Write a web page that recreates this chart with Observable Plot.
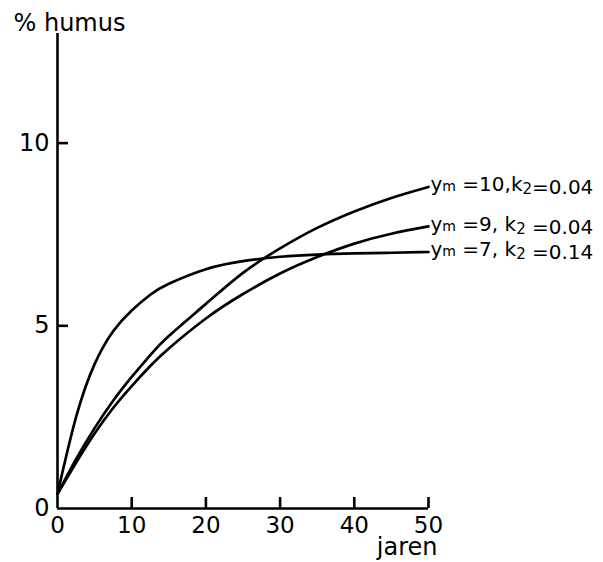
<!DOCTYPE html>
<html><head><meta charset="utf-8">
<script src="https://cdn.jsdelivr.net/npm/d3@7"></script>
<script src="https://cdn.jsdelivr.net/npm/@observablehq/plot@0.6"></script>
<style>body{margin:0;background:#fff}</style>
</head><body><div id="chart"></div>
<script>
const years = [0, 2.5, 5, 7.5, 10, 12.5, 15, 20, 25, 30, 35, 40, 45, 50];
const humusYm10 = [0.4, 1.35, 2.2, 2.95, 3.6, 4.2, 4.72, 5.6, 6.45, 7.12, 7.68, 8.13, 8.5, 8.8];
const humusYm9  = [0.4, 1.25, 2.05, 2.75, 3.35, 3.9, 4.38, 5.2, 5.87, 6.43, 6.88, 7.25, 7.52, 7.72];
const humusYm7  = [0.4, 2.5, 3.95, 4.85, 5.42, 5.85, 6.15, 6.55, 6.77, 6.89, 6.95, 6.98, 7.0, 7.02];
const seriesLabels = ["ym =10,k2=0.04", "ym =9, k2 =0.04", "ym =7, k2 =0.14"];
const xTicks = [0, 10, 20, 30, 40, 50];
const yTicks = [0, 5, 10];
const xLabel = "jaren";
const yLabel = "% humus";

const series = [humusYm10, humusYm9, humusYm7];
const rows = series.flatMap((vals, i) => years.map((t, j) => ({t, v: vals[j], s: seriesLabels[i]})));
const ends = series.map((vals, i) => ({t: years[years.length - 1], v: vals[vals.length - 1], s: seriesLabels[i]}));
const xTickRows = xTicks.filter(d => d > 0).map(d => ({x: d}));
const yTickRows = yTicks.filter(d => d > 0).map(d => ({y: d}));

const W = 603, H = 562, ML = 57, MR = 175, MT = 33, MB = 54;
const xDomain = [0, 50], yDomain = [0, 13];
const frameW = W - ML - MR, frameH = H - MT - MB;
const tickLen = 11;

const chart = Plot.plot({
  width: W, height: H,
  marginLeft: ML, marginRight: MR, marginTop: MT, marginBottom: MB,
  style: {fontFamily: "'DejaVu Sans', sans-serif", background: "#fff", color: "#000"},
  x: {domain: xDomain},
  y: {domain: yDomain},
  marks: [
    Plot.axisX({ticks: xTicks, tickSize: 0, tickPadding: 8, fontSize: 23, label: null}),
    Plot.axisY({ticks: yTicks, tickSize: 0, tickPadding: 8, fontSize: 24, label: null}),
    Plot.tickX(xTickRows, {x: "x", insetTop: frameH - tickLen, strokeWidth: 2.6, stroke: "#000"}),
    Plot.tickY(yTickRows, {y: "y", insetRight: frameW - tickLen, strokeWidth: 2.6, stroke: "#000"}),
    Plot.ruleY([0], {x1: 0, x2: 50, strokeWidth: 2.6}),
    Plot.ruleX([0], {y1: 0, y2: 13, strokeWidth: 2.6}),
    Plot.line(rows, {x: "t", y: "v", z: "s", curve: "natural", strokeWidth: 2.7, stroke: "#000"}),
    Plot.text(ends, {x: "t", y: "v", text: "s", textAnchor: "start", dx: 2, dy: -2, fontSize: 20, fill: "#000"}),
    Plot.text([xLabel], {frameAnchor: "bottom-right", textAnchor: "end", lineAnchor: "bottom", dx: 9, dy: 46, fontSize: 24, fill: "#000"}),
    Plot.text([yLabel], {frameAnchor: "top-left", textAnchor: "start", lineAnchor: "bottom", dx: -44, dy: -3, fontSize: 24, fill: "#000"})
  ]
});

// render subscripts (m in y_m, 2 in k_2) as real text tspans
d3.select(chart).selectAll("text").each(function() {
  const s = this.textContent;
  if (!seriesLabels.includes(s)) return;
  const el = d3.select(this);
  el.text(null);
  let buf = "";
  const flush = () => { if (buf) { el.append("tspan").text(buf); buf = ""; } };
  for (let i = 0; i < s.length; i++) {
    const ch = s[i];
    if (ch === "m" && s[i - 1] === "y") {
      flush();
      el.append("tspan").attr("font-size", 14).text("m");
    } else if (ch === "2" && s[i - 1] === "k") {
      flush();
      el.append("tspan").attr("font-size", 15).attr("dy", 3).text("2");
      el.append("tspan").attr("dy", -3).text("");
    } else buf += ch;
  }
  flush();
});

document.getElementById("chart").append(chart);
</script>
</body></html>
